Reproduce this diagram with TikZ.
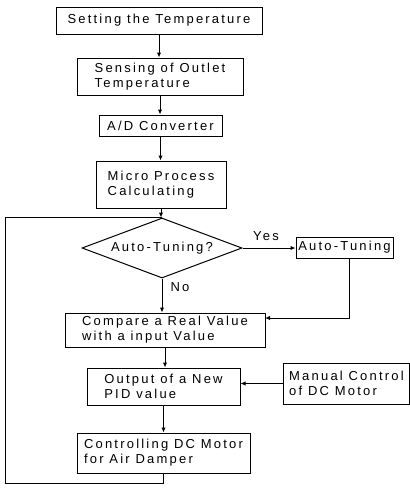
\documentclass[tikz,border=0pt]{standalone}
\usepackage{fontspec}
\setmainfont{Liberation Sans}[LetterSpace=17]
\usetikzlibrary{shapes.geometric,arrows.meta}

\begin{document}
\begin{tikzpicture}[x=1pt,y=-1pt,
  blk/.style={draw,line width=1pt,align=left,inner sep=2pt,font=\fontsize{13}{15}\selectfont},
  arr/.style={line width=1pt,-{Latex[length=5pt,width=4.5pt]}},
  ln/.style={line width=1pt}]
  \useasboundingbox (0,0) rectangle (410,488);
  \node[blk,minimum width=206pt,minimum height=27pt] (set) at (159,20.5) {Setting the Temperature};
  \node[blk,minimum width=166pt,minimum height=37pt] (sense) at (160,76.5) {Sensing of Outlet\\Temperature};
  \node[blk,minimum width=123pt,minimum height=21pt] (adc) at (160.5,125.5) {A/D Converter};
  \node[blk,minimum width=130pt,minimum height=47pt] (micro) at (161,184.5) {Micro Process\\Calculating};
  \node[blk,diamond,aspect=2.67,inner sep=0pt,minimum width=160pt,minimum height=60pt] (q) at (162,248) {Auto-Tuning?};
  \node[blk,minimum width=97pt,minimum height=21pt,inner sep=1pt] (tune) at (344.5,247.5) {Auto-Tuning};
  \node[blk,minimum width=200pt,minimum height=34pt] (cmp) at (165,330) {Compare a Real Value\\with a input Value};
  \node[blk,minimum width=153pt,minimum height=37pt] (out) at (163.5,386.5) {Output of a New\\PID value};
  \node[blk,minimum width=126pt,minimum height=41pt] (man) at (346.5,383.5) {Manual Control\\of DC Motor};
  \node[blk,minimum width=173pt,minimum height=40pt] (ctrl) at (163.5,453) {Controlling DC Motor\\for Air Damper};
  \node[font=\fontsize{13}{15}\selectfont] (yes) at (266,236) {Yes};
  \node[font=\fontsize{13}{15}\selectfont] (no) at (180,287) {No};
  \coordinate (lpb) at (5,483);
  \coordinate (tj) at (349,318);
  \coordinate (cj) at (265,318);
  \draw[arr] (set.south) -- (set.south |- sense.north);
  \draw[arr] (sense.south) -- (sense.south |- adc.north);
  \draw[arr] (adc.south) -- (adc.south |- micro.north);
  \draw[arr] (micro.south) -- (micro.south |- q.north);
  \draw[arr] (q.east) -- (q.east -| tune.west);
  \draw[arr] (q.south) -- (q.south |- cmp.north);
  \draw[arr] (tj |- tune.south) -- (tj) -- (cj);
  \draw[arr] (cmp.south) -- (cmp.south |- out.north);
  \draw[arr] (man.west) -- (man.west -| out.east);
  \draw[arr] (out.south) -- (out.south |- ctrl.north);
  \draw[ln] (ctrl.south) -- (ctrl.south |- lpb) -- (lpb) -- (lpb |- q.north) -- (q.north);
\end{tikzpicture}
\end{document}
